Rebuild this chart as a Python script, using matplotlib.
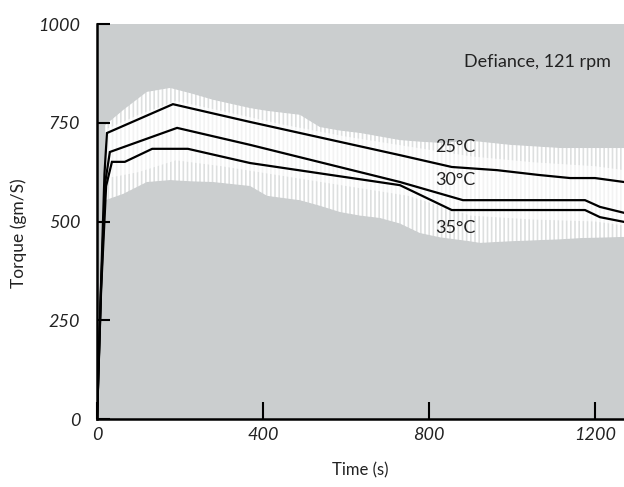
import numpy as np
import matplotlib.pyplot as plt

plt.rcParams['font.family'] = ['Lato', 'DejaVu Sans']
plt.rcParams['hatch.linewidth'] = 1.8

# smoothed torque curves (time in s, torque in gm/S)
t25 = [0, 10, 18, 24, 183, 369, 730, 855, 964, 1063, 1140, 1200, 1270]
v25 = [0, 350, 620, 724, 797, 752, 668, 638, 630, 618, 610, 610, 600]

t30 = [0, 10, 20, 31, 193, 369, 730, 882, 1176, 1212, 1270]
v30 = [0, 340, 600, 676, 737, 694, 600, 554, 554, 537, 522]

t35 = [0, 10, 22, 36, 67, 133, 219, 369, 730, 855, 1176, 1212, 1270]
v35 = [0, 330, 590, 651, 651, 684, 684, 648, 592, 529, 529, 511, 499]

# raw signal spread (white noisy band)
t_band = [20, 63, 120, 176, 224, 280, 369, 410, 489, 537, 586, 634, 682, 730, 778, 827, 899, 923, 995, 1116, 1164, 1270]
band_hi = [744, 782, 828, 838, 825, 808, 787, 780, 770, 739, 730, 724, 715, 706, 702, 699, 704, 702, 694, 686, 686, 686]
band_lo = [554, 570, 600, 605, 602, 600, 590, 565, 554, 540, 524, 515, 509, 495, 471, 460, 450, 446, 450, 455, 458, 461]

t_core = [25, 100, 190, 300, 450, 600, 750, 900, 1050, 1200, 1270]
core_hi = [735, 770, 805, 780, 745, 715, 690, 665, 650, 640, 630]
core_lo = [610, 625, 655, 640, 615, 590, 565, 515, 505, 500, 490]

labels = ['25°C', '30°C', '35°C']
label_x = [863, 863, 863]
label_y = [689, 605, 484]

fig = plt.figure(figsize=(6.24, 4.87), dpi=100)
ax = fig.add_axes([97 / 624, 68 / 487, 527 / 624, 395 / 487])
ax.set_facecolor('#cbcecf')

ax.fill_between(t_band, band_lo, band_hi, facecolor='white', alpha=0.35, linewidth=0)
ax.fill_between(t_band, band_lo, band_hi, facecolor='none', edgecolor='white',
                hatch='||||', linewidth=0)
ax.fill_between(t_core, core_lo, core_hi, facecolor='white', alpha=0.65, linewidth=0)

for t, v in [(t25, v25), (t30, v30), (t35, v35)]:
    ax.plot(t, v, color='black', lw=1.6, solid_joinstyle='miter')

for s, x, y in zip(labels, label_x, label_y):
    ax.text(x, y, s, fontsize=13, ha='center', va='center', color='#222222')

ax.text(0.975, 0.905, 'Defiance, 121 rpm', transform=ax.transAxes,
        fontsize=13, ha='right', va='center', color='#222222')

ax.set_xlim(0, 1270)
ax.set_ylim(0, 1000)
ax.set_xticks([0, 400, 800, 1200])
ax.set_yticks([0, 250, 500, 750, 1000])
ax.set_xticklabels(['0', '400', '800', '1200'], fontstyle='italic')
ax.set_yticklabels(['0', '250', '500', '750', '1000'], fontstyle='italic')
ax.tick_params(axis='x', direction='in', length=12, width=1.5, pad=6, labelsize=13, labelcolor='#222222')
ax.tick_params(axis='y', direction='in', length=9, width=1.5, pad=12, labelsize=13, labelcolor='#222222')

for side in ['top', 'right']:
    ax.spines[side].set_visible(False)
for side in ['left', 'bottom']:
    ax.spines[side].set_linewidth(1.8)

ax.set_xlabel('Time (s)', fontsize=12, labelpad=14, color='#222222')
ax.set_ylabel('Torque (gm/S)', fontsize=12.5, color='#222222')
ax.yaxis.set_label_coords(-0.132, 0.47)

fig.savefig('out.png', dpi=100)
